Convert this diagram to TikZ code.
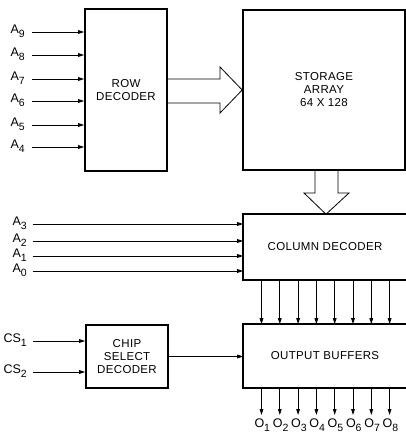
\documentclass[tikz,border=0pt]{standalone}
\usepackage{fontspec}
\setmainfont{Liberation Sans}
\usetikzlibrary{arrows.meta,positioning}
\newcommand{\lowsub}[1]{\raisebox{-4pt}{\fontsize{10.5}{11}\selectfont #1}}

\begin{document}
\begin{tikzpicture}[
  x=1pt,y=-1pt,
  blk/.style={rectangle,line width=1.6pt,align=center,inner sep=0pt,font=\fontsize{11.5}{13}\selectfont\addfontfeatures{LetterSpace=3}},
  box/.style={blk,draw},
  lbl/.style={inner sep=0pt,font=\fontsize{12.5}{13}\selectfont},
  sig/.style={-{Triangle[length=6pt,width=3.6pt]},line width=0.9pt},
  fat/.style={line width=0.8pt,line join=miter}
]
\useasboundingbox (0,0) rectangle (406,434);

\node[box,minimum width=82,minimum height=162] (rowdec) at (126,90) {ROW\\DECODER};
\node[box,minimum width=162,minimum height=160] (store) at (324,90) {STORAGE\\ARRAY\\64 X 128};
\node[blk,minimum width=162,minimum height=64] (coldec) at (325,247) {COLUMN DECODER};
\node[blk,minimum width=162,minimum height=62] (outbuf) at (325,356) {OUTPUT BUFFERS};
\node[box,minimum width=82,minimum height=63] (csdec) at (127,356.5) {CHIP\\SELECT\\DECODER};

% open boxes, cut at the right edge
\draw[line width=1.6pt] ([xshift=8pt]coldec.north east) -- (coldec.north west) -- (coldec.south west) -- ([xshift=8pt]coldec.south east);
\draw[line width=1.6pt] ([xshift=8pt]outbuf.north east) -- (outbuf.north west) -- (outbuf.south west) -- ([xshift=8pt]outbuf.south east);

% row address
\foreach \n/\y in {9/32,8/55,7/79,6/101,5/125,4/147} {
  \coordinate (in\n) at (32,\y);
  \node[lbl,anchor=base east] (a\n) at (25,\y+1) {A\lowsub{\n}};
  \draw[sig] (in\n) -- (in\n -| rowdec.west);
}

% column address
\foreach \n/\y in {3/224,2/241,1/256,0/271} {
  \coordinate (in\n) at (33,\y);
  \node[lbl,anchor=base east] (a\n) at (27,\y+1) {A\lowsub{\n}};
  \draw[sig] (in\n) -- (in\n -| coldec.west);
}

% chip select
\foreach \n/\y in {1/341,2/372} {
  \coordinate (cs\n) at (33,\y);
  \node[lbl,anchor=base east] (csl\n) at (27,\y+1) {CS\lowsub{\n}};
  \draw[sig] (cs\n) -- (cs\n -| csdec.west);
}
\draw[sig] (csdec.east) -- (csdec.east -| outbuf.west);

% wide arrows
\draw[fat] (rowdec.east |- 0,79) -- (220,79) -- (220,67) -- (store.west) -- (220,113) -- (220,103) -- (rowdec.east |- 0,103);
\draw[fat] (315,0 |- store.south) -- (315,193) -- (304,193) -- ([xshift=1pt]coldec.north) -- (349,193) -- (338,193) -- (338,0 |- store.south);

% data lines
\foreach \i in {1,...,8} {
  \node[lbl,anchor=base] (o\i) at (244+18.3*\i,427) {O\lowsub{\i}};
  \draw[sig] ([xshift=\i*18.3pt]coldec.south west) -- ([xshift=\i*18.3pt]outbuf.north west);
  \draw[sig] ([xshift=\i*18.3pt]outbuf.south west) -- ([xshift=\i*18.3pt]outbuf.south west |- 0,415);
}

\end{tikzpicture}
\end{document}
